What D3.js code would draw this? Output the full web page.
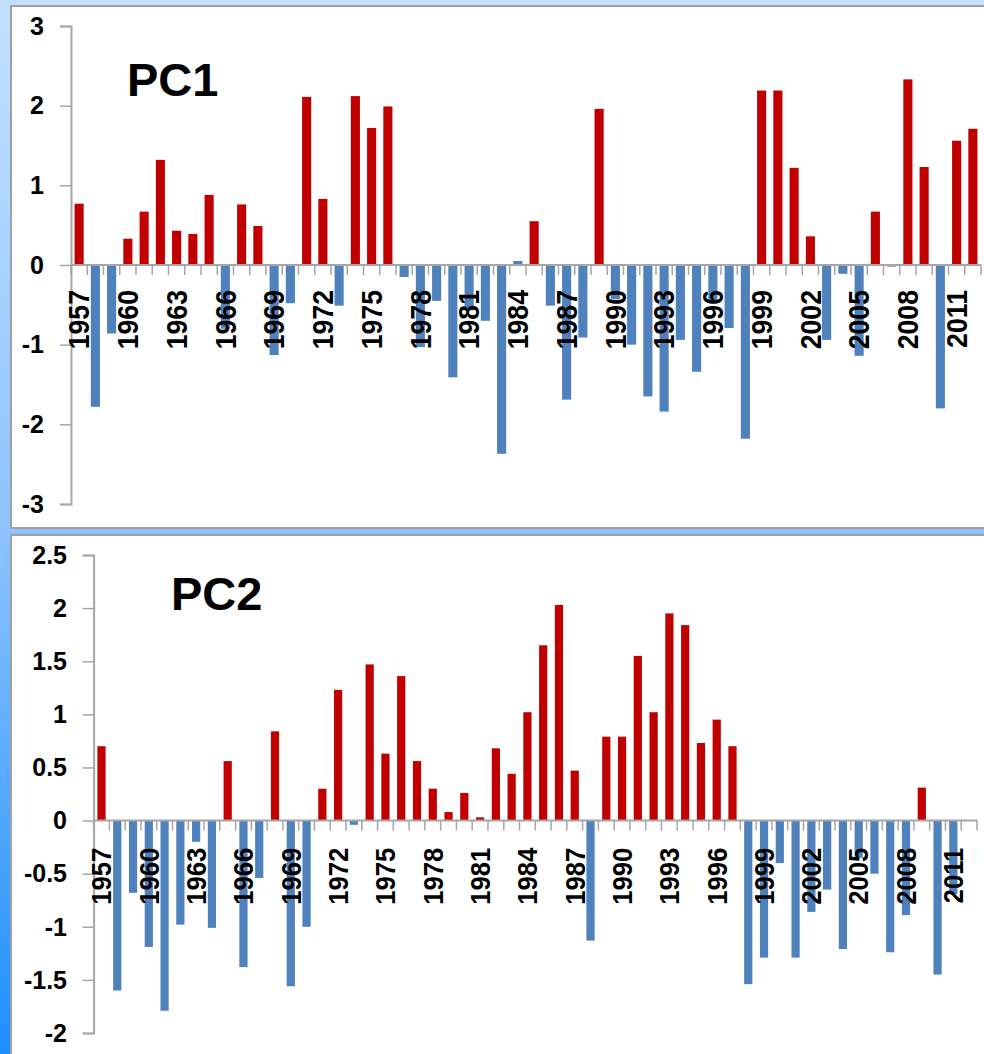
<!DOCTYPE html>
<html>
<head>
<meta charset="utf-8">
<script src="https://cdn.jsdelivr.net/npm/d3@7"></script>
<style>
  body { margin: 0; padding: 0; }
  svg { display: block; font-family: "Liberation Sans", Arial, sans-serif; }
</style>
</head>
<body>
<svg id="chart" width="984" height="1054"></svg>
<script>
let years = d3.range(1957, 2013)

let pc1Values = [
  0.77, -1.78, -0.86, 0.33, 0.67, 1.32, 0.43, 0.39, 0.88, -0.80,
  0.76, 0.49, -1.13, -0.48, 2.11, 0.83, -0.51, 2.12, 1.72, 1.99,
  -0.15, -1.03, -0.45, -1.41, -0.57, -0.70, -2.37, 0.05, 0.55, -0.51,
  -1.69, -0.91, 1.96, -0.43, -1.00, -1.65, -1.84, -0.94, -1.34, -0.45,
  -0.79, -2.18, 2.19, 2.19, 1.22, 0.36, -0.94, -0.11, -1.14, 0.67,
  -0.02, 2.33, 1.23, -1.80, 1.56, 1.71
]

let pc2Values = [
  0.70, -1.60, -0.68, -1.19, -1.79, -0.98, -0.20, -1.01, 0.56, -1.38,
  -0.54, 0.84, -1.56, -1.00, 0.30, 1.23, -0.04, 1.47, 0.63, 1.36,
  0.56, 0.30, 0.08, 0.26, 0.03, 0.68, 0.44, 1.02, 1.65, 2.03,
  0.47, -1.13, 0.79, 0.79, 1.55, 1.02, 1.95, 1.84, 0.73, 0.95,
  0.70, -1.54, -1.29, -0.40, -1.29, -0.86, -0.65, -1.21, -0.35, -0.50,
  -1.24, -0.89, 0.31, -1.45, -0.69, 0
]

// years drawn in blue although their value is not below zero
let pc1CoolYears = [1984]
let pc2CoolYears = []

let pc1Ticks = [-3, -2, -1, 0, 1, 2, 3]
let pc2Ticks = [-2, -1.5, -1, -0.5, 0, 0.5, 1, 1.5, 2, 2.5]

let labelYears = years.filter((y, i) => i % 3 === 0)

let red = "#C00000"
let blue = "#4F81BD"
let axisGray = "#A6A6A6"

let svg = d3.select("#chart")

let grad = svg.append("defs").append("linearGradient")
  .attr("id", "bg")
  .attr("x1", 0).attr("y1", 0)
  .attr("x2", 0).attr("y2", 1)
grad.append("stop").attr("offset", "0").attr("stop-color", "#C2E1FF")
grad.append("stop").attr("offset", "0.5").attr("stop-color", "#8EC3FF")
grad.append("stop").attr("offset", "1").attr("stop-color", "#1E8FFF")

svg.append("rect")
  .attr("width", 984)
  .attr("height", 1054)
  .attr("fill", "url(#bg)")

function drawPanel(opts) {
  let g = svg.append("g")

  g.append("rect")
    .attr("x", 11)
    .attr("y", opts.top)
    .attr("width", 1000)
    .attr("height", opts.height)
    .attr("fill", "white")
    .attr("stroke", "#A0A0A0")
    .attr("stroke-width", 2)

  let x = d3.scaleBand()
    .domain(opts.years)
    .range(opts.xRange)
    .paddingInner(opts.pad)
    .paddingOuter(opts.pad / 2)

  let y = d3.scaleLinear()
    .domain(opts.yDomain)
    .range(opts.yRange)

  let y0 = y(0)
  let step = x.step()

  // bars
  g.selectAll(".bar")
    .data(opts.values.map((v, i) => ({ year: opts.years[i], v: v })))
    .join("rect")
    .attr("x", d => x(d.year))
    .attr("width", x.bandwidth())
    .attr("y", d => Math.min(y(d.v), y0))
    .attr("height", d => Math.abs(y(d.v) - y0))
    .attr("fill", d => (d.v > 0 && opts.cool.indexOf(d.year) < 0) ? red : blue)

  // y axis
  let yAxis = g.append("g")
    .attr("transform", "translate(" + opts.xRange[0] + ",0)")
    .call(d3.axisLeft(y).tickValues(opts.yTicks).tickSize(11).tickFormat(""))
  yAxis.select(".domain").attr("stroke", axisGray).attr("stroke-width", 2)
  yAxis.selectAll(".tick line").attr("stroke", axisGray).attr("stroke-width", 1.5)

  g.selectAll(".ylab")
    .data(opts.yTicks)
    .join("text")
    .attr("x", opts.labelRight)
    .attr("y", d => y(d))
    .attr("dy", "0.35em")
    .attr("text-anchor", "end")
    .style("font-size", "25px")
    .style("font-weight", "bold")
    .text(d => d)

  // x axis line and boundary ticks
  g.append("line")
    .attr("x1", opts.xRange[0])
    .attr("x2", opts.xRange[1])
    .attr("y1", y0)
    .attr("y2", y0)
    .attr("stroke", axisGray)
    .attr("stroke-width", 2)

  g.selectAll(".xtick")
    .data(d3.range(opts.years.length + 1))
    .join("line")
    .attr("x1", i => opts.xRange[0] + i * step)
    .attr("x2", i => opts.xRange[0] + i * step)
    .attr("y1", y0)
    .attr("y2", y0 + 10)
    .attr("stroke", axisGray)
    .attr("stroke-width", 1.5)

  g.selectAll(".xlab")
    .data(labelYears)
    .join("text")
    .attr("transform", d => "translate(" + (x(d) + x.bandwidth() / 2) + "," + (y0 + opts.labelGap) + ") rotate(-90) scale(0.92,1)")
    .attr("dy", "0.35em")
    .attr("text-anchor", "end")
    .style("font-size", opts.xFont)
    .style("font-weight", "bold")
    .text(d => d)

  g.append("text")
    .attr("x", opts.titleX)
    .attr("y", opts.titleY)
    .style("font-size", "47px")
    .style("font-weight", "bold")
    .text(opts.title)
}

drawPanel({
  title: "PC1",
  titleX: 127,
  titleY: 96,
  top: 6,
  height: 522,
  years: years,
  values: pc1Values,
  cool: pc1CoolYears,
  xRange: [71, 981],
  yDomain: [-3, 3],
  yRange: [504, 26],
  yTicks: pc1Ticks,
  labelRight: 44,
  labelGap: 25,
  xFont: "29px",
  pad: 0.44
})

drawPanel({
  title: "PC2",
  titleX: 171,
  titleY: 610,
  top: 535,
  height: 540,
  years: years,
  values: pc2Values,
  cool: pc2CoolYears,
  xRange: [93.6, 977],
  yDomain: [-2, 2.5],
  yRange: [1033, 555],
  yTicks: pc2Ticks,
  labelRight: 67,
  labelGap: 27,
  xFont: "28px",
  pad: 0.48
})
</script>
</body>
</html>
